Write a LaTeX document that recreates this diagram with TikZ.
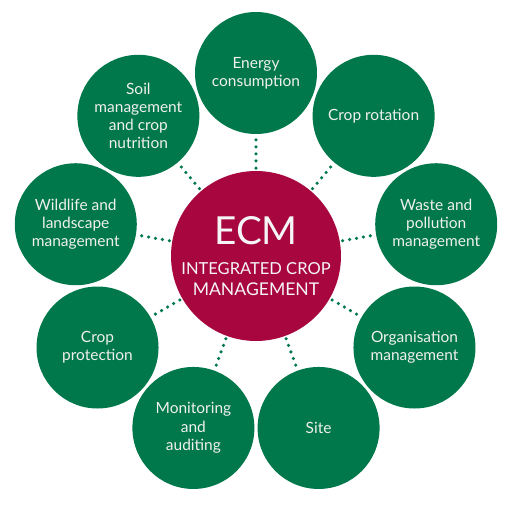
\documentclass[tikz,border=0pt]{standalone}
\usepackage{fontspec}
\setmainfont{Lato}
\usetikzlibrary{positioning}
\definecolor{ecmgreen}{HTML}{00784B}
\definecolor{ecmred}{HTML}{A8063F}

\begin{document}
\begin{tikzpicture}[
  topic/.style={circle, fill=ecmgreen, minimum size=2.44cm, inner sep=0pt,
    align=center, text=white!94!black, font=\fontsize{8.8}{10.4}\selectfont},
  hub/.style={circle, fill=ecmred, minimum size=3.4cm, inner sep=0pt,
    align=center, text=white!96!black},
  dotline/.style={ecmgreen, line width=2pt, line cap=round,
    dash pattern=on 0pt off 4pt, shorten <=1.5pt, shorten >=1.5pt}
]

%% ── Canvas ───────────────────────────────────────────────────────────
\useasboundingbox (-5.12,-5.12) rectangle (5.12,5.12);

%% ── Ring radius ──────────────────────────────────────────────────────
\def\R{3.66}

%% ── Central hub ──────────────────────────────────────────────────────
\node[hub] (ecm) at (0,0)
  {\fontsize{22}{24}\selectfont ECM\\[5pt]
   \fontsize{9.4}{10.6}\selectfont INTEGRATED CROP\\MANAGEMENT};

%% ── Outer topics ─────────────────────────────────────────────────────
\node[topic] (energy)   at (90:\R)   {Energy\\consumption};
\node[topic] (rotation) at (50:\R)   {Crop rotation};
\node[topic] (waste)    at (10:\R)   {Waste and\\pollution\\management};
\node[topic] (orga)     at (-30:\R)  {Organisation\\management};
\node[topic] (site)     at (-70:\R)  {Site};
\node[topic] (monitor)  at (-110:\R) {Monitoring\\and\\auditing};
\node[topic] (protect)  at (-150:\R) {Crop\\protection};
\node[topic] (wildlife) at (170:\R)  {Wildlife and\\landscape\\management};
\node[topic] (soil)     at (130:\R)  {Soil\\management\\and crop\\nutrition};

%% ── Dotted links ─────────────────────────────────────────────────────
\draw[dotline] (ecm) -- (energy);
\draw[dotline] (ecm) -- (rotation);
\draw[dotline] (ecm) -- (waste);
\draw[dotline] (ecm) -- (orga);
\draw[dotline] (ecm) -- (site);
\draw[dotline] (ecm) -- (monitor);
\draw[dotline] (ecm) -- (protect);
\draw[dotline] (ecm) -- (wildlife);
\draw[dotline] (ecm) -- (soil);

\end{tikzpicture}
\end{document}
